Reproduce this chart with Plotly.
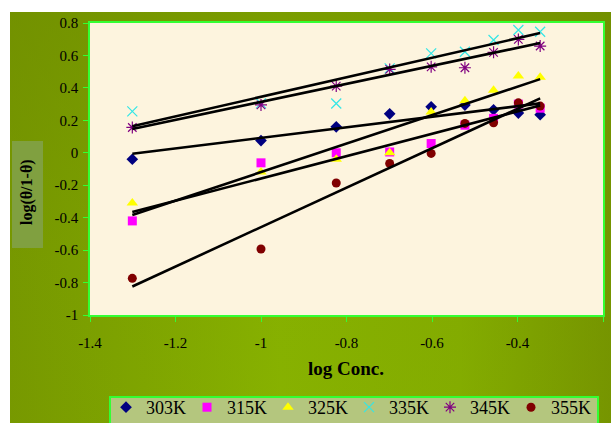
import base64
import numpy as np
import plotly.graph_objects as go

# log of inhibitor concentration
log_conc = [-1.301, -1.0, -0.824, -0.699, -0.602, -0.523, -0.456, -0.398, -0.347]

# log(theta/1-theta) at each temperature
temps = ["303K", "315K", "325K", "335K", "345K", "355K"]
y_303 = [-0.04, 0.075, 0.16, 0.24, 0.283, 0.294, 0.265, 0.245, 0.235]
y_315 = [-0.42, -0.062, 0.0, 0.005, 0.057, 0.17, 0.212, 0.30, 0.275]
y_325 = [-0.31, -0.118, -0.04, 0.0, 0.252, 0.32, 0.386, 0.473, 0.465]
y_335 = [0.255, 0.305, 0.304, 0.52, 0.613, 0.623, 0.695, 0.757, 0.746]
y_345 = [0.156, 0.295, 0.411, 0.514, 0.53, 0.524, 0.619, 0.699, 0.658]
y_355 = [-0.774, -0.593, -0.186, -0.066, -0.004, 0.181, 0.185, 0.308, 0.288]

x_ticks = [-1.4, -1.2, -1.0, -0.8, -0.6, -0.4, -0.2]
x_ticktext = ["-1.4", "-1.2", "-1", "-0.8", "-0.6", "-0.4", "-0.2"]
y_ticks = [-1.0, -0.8, -0.6, -0.4, -0.2, 0.0, 0.2, 0.4, 0.6, 0.8]
y_ticktext = ["-1", "-0.8", "-0.6", "-0.4", "-0.2", "0", "0.2", "0.4", "0.6", "0.8"]

series = [y_303, y_315, y_325, y_335, y_345, y_355]
symbols = ["diamond", "square", "triangle-up", "x-thin", "asterisk", "circle"]
colors = ["#000080", "#ff00ff", "#ffff00", "#33e6e6", "#800080", "#800000"]
sizes = [9, 9, 10, 10, 10, 9]

FONT = "Liberation Serif, Times New Roman, serif"
W, H = 611, 423
L, R, T, B = 90, 8, 23, 108
pw, ph = W - L - R, H - T - B


def px_x(p):
    return (p - L) / pw


def px_y(p):
    return (H - B - p) / ph


fig = go.Figure()

for name, ys, sym, col, sz in zip(temps, series, symbols, colors, sizes):
    open_sym = sym in ("x-thin", "asterisk")
    fig.add_trace(go.Scatter(
        x=log_conc, y=ys, mode="markers", name=name,
        marker=dict(symbol=sym, size=sz, color=col,
                    line=dict(color=col, width=1.2 if open_sym else 0)),
    ))

# least-squares trend lines across the measured range
for ys in series:
    k, b = np.polyfit(log_conc, ys, 1)
    xs = [min(log_conc), max(log_conc)]
    fig.add_trace(go.Scatter(
        x=xs, y=[k * v + b for v in xs], mode="lines",
        line=dict(color="black", width=2.6), showlegend=False, hoverinfo="skip",
    ))

# olive backdrop with a soft light centre
svg = (
    '<svg xmlns="http://www.w3.org/2000/svg" width="600" height="411">'
    '<defs>'
    '<linearGradient id="h" x1="0" y1="0" x2="1" y2="0">'
    '<stop offset="0" stop-color="#789a00"/>'
    '<stop offset="0.45" stop-color="#8ab600"/>'
    '<stop offset="0.75" stop-color="#86b000"/>'
    '<stop offset="1" stop-color="#779600"/>'
    '</linearGradient>'
    '<linearGradient id="v" x1="0" y1="0" x2="0" y2="1">'
    '<stop offset="0" stop-color="#6f8c00" stop-opacity="0.6"/>'
    '<stop offset="0.6" stop-color="#6f8c00" stop-opacity="0.15"/>'
    '<stop offset="1" stop-color="#6f8c00" stop-opacity="0.1"/>'
    '</linearGradient>'
    '</defs>'
    '<rect width="600" height="411" fill="url(#h)"/>'
    '<rect width="600" height="411" fill="url(#v)"/>'
    '</svg>'
)
bg_src = "data:image/svg+xml;base64," + base64.b64encode(svg.encode()).decode()

axis_common = dict(
    showgrid=False, zeroline=False, showline=True, linecolor="#33ff33",
    linewidth=1.5, mirror=True, ticks="outside", tickcolor="#33ff33",
    ticklen=5, tickwidth=1, tickfont=dict(family=FONT, size=15, color="black"),
)

fig.update_layout(
    width=W, height=H,
    margin=dict(l=L, r=R, t=T, b=B, pad=0, autoexpand=False),
    paper_bgcolor="white",
    plot_bgcolor="#fdf4de",
    xaxis=dict(range=[-1.4, -0.2], tickvals=x_ticks, ticktext=x_ticktext,
               ticklabelstandoff=8, **axis_common),
    yaxis=dict(range=[-1.0, 0.8], tickvals=y_ticks, ticktext=y_ticktext,
               ticklabelstandoff=2, **axis_common),
    images=[dict(source=bg_src, xref="paper", yref="paper",
                 x=px_x(10), y=px_y(12), sizex=(W - 10) / pw, sizey=(H - 12) / ph,
                 xanchor="left", yanchor="top", sizing="stretch", layer="below")],
    shapes=[
        # cream plotting surface
        dict(type="rect", xref="paper", yref="paper", x0=0, x1=1, y0=0, y1=1,
             fillcolor="#fdf4de", line=dict(width=0), layer="below"),
        # panel behind the y-axis title
        dict(type="rect", xref="paper", yref="paper",
             x0=px_x(12), x1=px_x(43), y0=px_y(248), y1=px_y(141),
             fillcolor="#80a040", line=dict(width=0), layer="below"),
        # legend panel
        dict(type="rect", xref="paper", yref="paper",
             x0=px_x(110), x1=px_x(598), y0=px_y(432), y1=px_y(397),
             fillcolor="#b4c67e", line=dict(color="#33ff33", width=2),
             layer="below"),
    ],
    annotations=[
        dict(text="<b>log(θ/1-θ)</b>", xref="paper", yref="paper",
             x=px_x(27), y=px_y(192), xanchor="center", yanchor="middle",
             textangle=-90, showarrow=False,
             font=dict(family=FONT, size=16, color="black")),
        dict(text="<b>log Conc.</b>", xref="paper", yref="paper",
             x=px_x(346), y=px_y(368), xanchor="center", yanchor="middle",
             showarrow=False,
             font=dict(family=FONT, size=19, color="black")),
    ],
    legend=dict(orientation="h", xref="paper", yref="paper",
                x=px_x(106), y=px_y(389), xanchor="left", yanchor="top",
                bgcolor="rgba(0,0,0,0)", borderwidth=0,
                font=dict(family=FONT, size=18, color="black"),
                entrywidth=36, entrywidthmode="pixels", itemclick=False),
    showlegend=True,
)

fig.write_html("out.html")
